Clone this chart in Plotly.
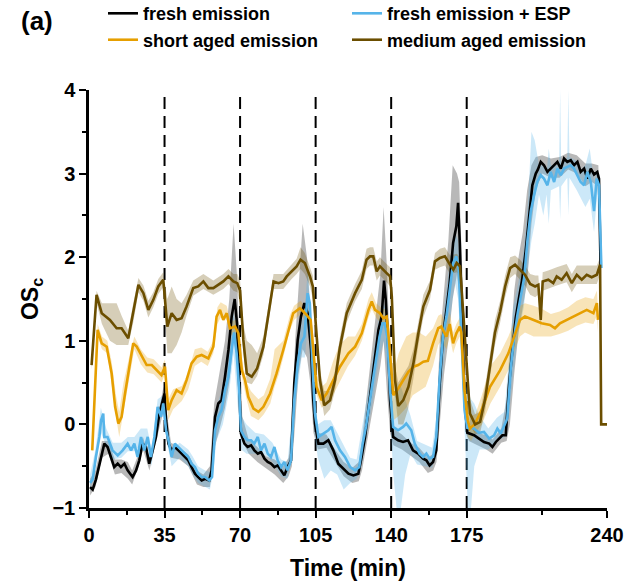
import plotly.graph_objs as go

# ---- data (time in min, OSc) ----
t_fresh = [0.5, 1.7, 3.2, 4.8, 6.3, 7.1, 8.6, 10.2, 11.7, 13.3, 14.8, 16.4, 17.9, 20.2, 21.8, 23.3, 24.8, 26.4, 27.9, 29.5,
           31.0, 32.6, 34.1, 35.0, 35.7, 36.8, 38.3, 39.8, 41.4, 42.9, 44.5, 46.0, 47.5, 49.1, 50.6, 52.2, 53.8, 55.7, 56.8, 58.4,
           59.9, 61.4, 63.0, 64.6, 66.1, 67.5, 68.6, 69.5, 70.4, 72.0, 73.5, 75.1, 76.6, 78.2, 79.7, 81.3, 82.8, 84.3, 85.9, 87.4,
           89.0, 90.5, 92.0, 93.6, 95.1, 96.7, 98.2, 99.8, 101.3, 102.9, 103.9, 104.7, 106.3, 108.6, 110.9, 113.2, 115.5, 117.8, 120.2, 122.5,
           124.8, 126.3, 127.9, 129.4, 131.0, 132.5, 134.1, 135.6, 136.7, 137.5, 138.7, 139.5, 140.9, 143.2, 145.5, 147.8, 150.1, 152.5, 154.8, 156.3,
           157.8, 159.4, 160.9, 162.5, 164.0, 165.6, 167.1, 168.7, 170.2, 171.0, 171.8, 172.8, 174.0, 175.3, 178.4, 180.7, 183.0, 185.4, 186.9, 188.5,
           190.0, 191.5, 193.1, 194.6, 196.1, 197.7, 199.2, 200.8, 202.3, 203.9, 205.4, 207.0, 208.0, 209.3, 210.8, 212.4, 213.9, 215.5, 217.0, 218.6,
           220.1, 221.6, 223.2, 224.7, 226.3, 227.8, 229.4, 230.9, 232.5, 234.0, 235.5, 236.3, 237.0]
y_fresh = [-0.75, -0.78, -0.66, -0.47, -0.31, -0.23, -0.27, -0.39, -0.51, -0.47, -0.51, -0.47, -0.55, -0.63, -0.55, -0.43, -0.23, -0.27, -0.47, -0.31,
           -0.15, 0.13, 0.29, 0.37, 0.05, -0.23, -0.31, -0.27, -0.31, -0.35, -0.39, -0.43, -0.51, -0.59, -0.63, -0.67, -0.65, -0.67, -0.55, 0.09,
           0.25, 0.29, 0.57, 0.89, 1.29, 1.50, 1.20, 0.60, -0.11, -0.23, -0.27, -0.25, -0.31, -0.35, -0.33, -0.41, -0.45, -0.47, -0.51, -0.49,
           -0.55, -0.61, -0.51, -0.43, 0.49, 1.01, 1.29, 1.45, 1.33, 0.89, 0.30, 0.01, -0.23, -0.23, -0.19, -0.31, -0.47, -0.53, -0.59, -0.61,
           -0.59, -0.39, -0.15, 0.17, 0.49, 0.81, 1.13, 1.29, 1.72, 1.49, 0.89, 0.29, -0.15, -0.19, -0.21, -0.19, -0.31, -0.35, -0.41, -0.43,
           -0.49, -0.45, -0.31, 0.49, 1.05, 1.37, 1.69, 2.17, 2.37, 2.65, 2.17, 1.29, 0.29, -0.10, -0.13, -0.17, -0.21, -0.23, -0.27, -0.21,
           -0.17, -0.13, -0.13, 0.47, 0.87, 1.27, 1.51, 1.75, 2.07, 2.47, 2.86, 3.00, 3.05, 3.14, 3.10, 3.02, 3.06, 3.10, 3.14, 3.06,
           3.18, 3.14, 3.16, 3.10, 3.14, 3.02, 3.06, 2.94, 3.06, 2.99, 3.02, 2.94, 1.90]

t_esp = [0.5, 1.7, 3.2, 4.8, 5.6, 6.6, 7.1, 8.6, 10.9, 13.3, 15.6, 17.9, 19.5, 21.0, 22.5, 24.1, 25.6, 27.2, 28.7, 30.3,
         31.8, 33.4, 34.4, 35.7, 36.8, 38.3, 39.8, 41.4, 42.9, 44.5, 46.0, 47.5, 49.1, 50.6, 52.2, 53.8, 55.7, 57.0, 58.4, 59.9,
         61.4, 63.0, 64.6, 66.1, 67.2, 68.4, 69.6, 70.4, 72.0, 73.5, 75.1, 76.6, 78.2, 79.7, 81.3, 82.8, 84.3, 85.9, 87.4, 89.0,
         90.5, 92.0, 93.6, 95.1, 96.7, 98.2, 99.8, 101.3, 102.3, 103.6, 104.7, 106.3, 108.6, 110.9, 112.4, 114.0, 116.3, 118.6, 121.0, 123.3,
         125.2, 126.8, 128.3, 129.9, 131.5, 133.0, 134.6, 136.0, 137.0, 138.2, 139.5, 140.9, 143.2, 145.5, 147.0, 149.3, 150.9, 153.2, 154.8, 156.3,
         157.8, 159.4, 160.9, 162.5, 164.0, 165.6, 167.1, 168.7, 170.2, 171.3, 172.5, 174.0, 175.3, 176.1, 178.4, 180.7, 183.0, 185.4, 187.7, 189.2,
         190.8, 192.3, 193.8, 195.4, 196.9, 198.5, 200.0, 201.6, 203.1, 204.7, 206.2, 207.7, 209.3, 210.8, 212.4, 213.9, 215.5, 217.0, 218.6, 220.1,
         221.6, 223.2, 224.7, 226.3, 227.8, 229.4, 230.9, 232.5, 234.0, 235.2, 236.3, 237.4]
y_esp = [-0.70, -0.66, -0.39, -0.15, 0.05, 0.13, -0.15, -0.15, -0.31, -0.37, -0.31, -0.23, -0.31, -0.23, -0.39, -0.15, -0.31, -0.15, -0.39, -0.15,
         0.21, 0.09, 0.25, -0.07, -0.19, -0.39, -0.23, -0.27, -0.31, -0.35, -0.39, -0.47, -0.51, -0.59, -0.63, -0.63, -0.67, -0.63, -0.07, 0.09,
         0.17, 0.41, 0.57, 0.89, 1.10, 0.85, 0.41, -0.07, -0.15, -0.19, -0.19, -0.23, -0.15, -0.31, -0.23, -0.35, -0.39, -0.27, -0.43, -0.51,
         -0.45, -0.55, -0.43, 0.29, 0.73, 0.97, 1.05, 1.57, 1.45, 0.69, 0.13, -0.15, -0.11, -0.07, -0.03, -0.19, -0.31, -0.39, -0.51, -0.55,
         -0.51, -0.23, -0.03, 0.25, 0.49, 0.81, 1.05, 1.21, 1.21, 1.05, 0.41, -0.03, -0.07, -0.03, 0.01, -0.07, -0.23, -0.35, -0.39, -0.35,
         -0.41, -0.39, -0.15, 0.57, 1.05, 1.29, 1.61, 1.93, 2.01, 1.85, 1.09, 0.17, -0.05, -0.03, -0.05, -0.10, -0.09, -0.17, -0.13, -0.05,
         -0.11, -0.01, 0.07, 0.67, 1.03, 1.31, 1.51, 1.75, 2.19, 2.55, 2.74, 2.90, 2.98, 2.94, 2.86, 3.02, 2.90, 3.06, 2.98, 3.06,
         3.08, 3.10, 3.06, 2.98, 2.90, 2.86, 3.02, 2.90, 2.55, 2.94, 2.86, 1.87]

t_short = [1.5, 4.0, 5.9, 8.2, 10.5, 12.1, 13.6, 15.1, 16.7, 19.0, 20.5, 22.1, 24.4, 26.7, 29.1, 31.4, 33.6, 35.2, 36.7, 38.3,
           40.6, 42.9, 45.2, 47.5, 49.9, 52.2, 55.3, 57.6, 59.1, 60.7, 62.2, 63.8, 65.3, 67.7, 69.2, 70.8, 72.3, 73.8, 76.2, 78.5,
           80.8, 83.9, 86.9, 90.0, 93.1, 94.6, 97.7, 100.1, 102.7, 103.8, 105.4, 107.8, 110.1, 113.2, 116.3, 120.2, 123.3, 126.4, 129.5, 131.0,
           132.5, 134.8, 136.4, 137.9, 139.0, 141.0, 143.3, 145.6, 148.0, 150.3, 152.5, 154.9, 157.0, 159.4, 161.8, 163.2, 165.6, 167.1, 168.7, 170.2,
           171.8, 172.5, 174.0, 175.5, 176.5, 178.9, 181.9, 185.8, 190.5, 194.3, 197.4, 199.7, 202.0, 205.9, 209.7, 213.6, 215.9, 218.2, 221.3, 224.4,
           227.5, 230.6, 233.7, 235.3, 235.8]
y_short = [-0.31, 1.13, 0.97, 0.93, 0.61, 0.21, 0.01, 0.09, 0.37, 0.73, 0.97, 0.93, 0.81, 0.71, 0.71, 0.65, 0.59, 0.69, 0.17, 0.29,
           0.41, 0.37, 0.53, 0.73, 0.81, 0.83, 0.79, 0.93, 1.29, 1.37, 1.25, 1.33, 1.15, 1.17, 1.09, 0.65, 0.53, 0.33, 0.19, 0.15,
           0.21, 0.37, 0.61, 0.89, 1.21, 1.33, 1.39, 1.33, 1.25, 0.93, 0.45, 0.29, 0.37, 0.53, 0.69, 0.85, 0.93, 1.09, 1.37, 1.47,
           1.37, 1.33, 1.27, 1.29, 1.00, 0.35, 0.43, 0.53, 0.63, 0.69, 0.71, 0.75, 0.76, 0.97, 1.15, 1.17, 1.05, 1.20, 0.97, 1.09,
           1.17, 1.10, 0.40, 0.05, -0.05, 0.01, 0.17, 0.45, 0.65, 0.85, 1.09, 1.25, 1.29, 1.25, 1.21, 1.19, 1.15, 1.21, 1.25, 1.29,
           1.33, 1.37, 1.33, 1.45, 1.25]

t_medium = [1.2, 3.5, 5.9, 9.7, 12.8, 15.1, 18.2, 20.5, 22.9, 25.2, 27.5, 29.8, 32.1, 34.4, 36.3, 38.3, 40.6, 42.9, 45.2, 48.3,
            50.6, 53.0, 55.3, 57.6, 59.9, 62.2, 64.6, 66.9, 68.7, 70.0, 71.5, 73.1, 75.4, 77.9, 80.8, 83.1, 85.5, 87.8, 90.0, 91.6,
            93.9, 96.2, 98.0, 100.0, 102.4, 103.7, 104.7, 105.8, 107.0, 109.0, 111.7, 114.0, 116.3, 119.4, 123.3, 126.4, 128.6, 130.2, 131.7, 133.3,
            134.8, 137.9, 139.5, 140.3, 141.8, 143.3, 145.6, 148.0, 150.3, 152.6, 154.9, 158.0, 160.3, 162.6, 164.9, 167.3, 168.8, 170.4, 171.9, 173.4,
            175.0, 176.5, 178.9, 181.2, 183.5, 186.0, 188.1, 190.5, 192.8, 195.1, 197.4, 199.7, 202.0, 204.4, 206.7, 208.2, 209.3, 210.2, 212.8, 215.1,
            216.7, 219.0, 221.3, 223.7, 226.0, 228.3, 230.6, 232.9, 235.3, 236.8, 237.3, 240.0]
y_medium = [0.71, 1.55, 1.33, 1.25, 1.15, 1.15, 1.03, 1.33, 1.67, 1.57, 1.37, 1.49, 1.65, 1.73, 1.17, 1.33, 1.25, 1.27, 1.41, 1.63,
            1.65, 1.71, 1.63, 1.63, 1.67, 1.71, 1.77, 1.71, 1.69, 1.60, 1.01, 0.61, 0.57, 0.67, 0.93, 1.33, 1.71, 1.69, 1.71, 1.77,
            1.83, 1.89, 1.97, 1.93, 1.77, 1.65, 1.33, 0.93, 0.53, 0.23, 0.29, 0.53, 0.93, 1.33, 1.57, 1.73, 1.97, 2.01, 2.01, 1.83,
            1.89, 1.81, 1.77, 1.53, 0.53, 0.22, 0.29, 0.45, 0.73, 1.09, 1.41, 1.61, 1.95, 1.99, 2.01, 1.91, 1.85, 1.93, 1.89, 1.33,
            0.65, 0.13, 0.00, 0.03, 0.30, 0.75, 1.10, 1.35, 1.65, 1.87, 1.91, 1.85, 1.79, 1.68, 1.65, 1.67, 1.25, 1.71, 1.73, 1.69,
            1.77, 1.73, 1.81, 1.69, 1.79, 1.73, 1.79, 1.76, 1.79, 1.91, 0.00, 0.00]

# ---- uncertainty bands (lower / upper edges) ----
bt_fresh = [0.5, 3, 6, 9, 12, 15, 18, 20, 23, 25, 28, 31, 33, 34.5, 36, 38, 42, 46, 50, 53,
            56, 58, 60, 63, 65, 67, 68.5, 70, 71, 74, 78, 82, 86, 90, 92.5, 94, 95.5, 97, 99, 101,
            102.5, 104, 106, 110, 114, 118, 122, 125, 126.5, 128.5, 131, 133, 135, 136.5, 138, 139.5, 141, 145, 149, 153,
            157, 159.5, 161, 162.5, 164.5, 166.5, 168.5, 170.5, 171.5, 173, 174.5, 176, 180, 184, 187, 191, 193.5, 195, 197, 199,
            201, 203, 205, 207, 210, 214, 218, 222, 226, 230, 233, 236, 237]
lo_fresh = [-0.85, -0.75, -0.40, -0.35, -0.60, -0.58, -0.65, -0.72, -0.50, -0.30, -0.55, -0.22, 0.00, 0.15, -0.10, -0.40, -0.42, -0.50, -0.72, -0.75,
            -0.75, -0.30, -0.10, 0.20, 0.50, 1.00, 0.80, 0.00, -0.20, -0.35, -0.45, -0.52, -0.60, -0.70, -0.62, -0.50, 0.00, 0.60, 0.90, 0.80,
            0.50, -0.10, -0.30, -0.28, -0.45, -0.62, -0.70, -0.68, -0.55, -0.30, 0.10, 0.40, 0.70, 1.00, 0.40, -0.10, -0.25, -0.30, -0.38, -0.45,
            -0.58, -0.55, -0.45, 0.00, 0.60, 1.00, 1.50, 1.80, 1.60, 0.60, -0.10, -0.20, -0.25, -0.30, -0.35, -0.22, -0.20, 0.00, 0.60, 1.10,
            1.40, 1.70, 2.40, 2.80, 3.00, 2.95, 2.95, 3.05, 3.00, 2.85, 2.90, 2.85, 1.80]
hi_fresh = [-0.65, -0.55, -0.20, -0.20, -0.42, -0.42, -0.45, -0.55, -0.35, -0.15, -0.40, -0.08, 0.25, 0.45, 0.15, -0.22, -0.28, -0.36, -0.55, -0.60,
            -0.50, 0.25, 0.55, 1.00, 1.50, 2.40, 1.80, 0.90, 0.10, -0.18, -0.27, -0.38, -0.42, -0.50, -0.40, 0.00, 1.00, 1.60, 2.40, 2.00,
            1.40, 0.70, -0.10, -0.12, -0.30, -0.45, -0.52, -0.45, -0.20, 0.30, 0.90, 1.30, 1.80, 2.60, 1.90, 0.80, -0.05, -0.12, -0.22, -0.28,
            -0.40, -0.35, 0.00, 1.00, 1.60, 2.20, 3.10, 3.00, 2.90, 1.80, 0.40, 0.00, -0.10, -0.13, -0.18, -0.05, 0.30, 0.90, 1.60, 2.00,
            2.30, 2.80, 3.10, 3.20, 3.22, 3.18, 3.20, 3.25, 3.22, 3.12, 3.12, 3.10, 2.00]

bt_esp = [0.5, 3, 5.5, 8, 11, 15, 18, 21, 24, 27, 29, 31.8, 34.4, 36, 38.3, 42, 46, 48, 50.5, 53.8,
          56, 57.5, 59, 62, 65, 67, 69, 70.5, 73, 77, 81, 85, 89, 92, 94, 96, 98.5, 100, 101.5, 103,
          104.5, 106, 109, 112, 115, 118, 121, 124, 126.5, 129, 132, 134.5, 136.5, 138.5, 139.8, 141, 142.5, 144.5, 146.5, 149,
          152, 156, 159, 161, 162.8, 165, 167.5, 169.5, 171, 172.8, 174.3, 175.5, 177, 178.5, 181, 185, 189, 192.5, 194.5, 196.5,
          199, 201.5, 203.5, 205, 206.5, 208.5, 210.5, 212, 213, 214, 217.8, 218.3, 218.8, 221.6, 222.1, 222.6, 226, 228, 230, 232,
          234, 235.5, 237]
lo_esp = [-0.80, -0.50, -0.10, -0.25, -0.42, -0.40, -0.32, -0.32, -0.25, -0.25, -0.50, 0.10, 0.15, -0.20, -0.50, -0.40, -0.50, -0.60, -0.70, -0.75,
          -0.78, -0.60, -0.20, 0.00, 0.40, 0.85, 0.20, -0.30, -0.35, -0.35, -0.35, -0.45, -0.62, -0.65, -0.30, 0.30, 0.80, 0.80, 1.20, 0.50,
          -0.10, -0.40, -0.65, -0.55, -0.60, -0.78, -0.70, -0.65, -0.45, -0.10, 0.35, 0.80, 1.00, 0.60, 0.00, -0.60, -1.00, -1.00, -0.60, -0.35,
          -0.48, -0.50, -0.52, -0.30, 0.30, 0.90, 1.30, 1.70, 1.50, 0.70, -0.30, -1.00, -1.00, -0.50, -0.30, -0.30, -0.20, -0.15, 0.10, 0.60,
          1.10, 1.40, 1.90, 2.20, 2.40, 2.75, 2.50, 2.75, 2.40, 2.80, 2.85, 2.45, 2.85, 2.95, 2.50, 2.95, 2.80, 2.70, 2.60, 2.70,
          2.30, 2.75, 1.80]
hi_esp = [-0.60, -0.30, 0.20, -0.05, -0.22, -0.22, -0.15, -0.15, -0.05, -0.05, -0.30, 0.30, 0.35, 0.05, -0.30, -0.22, -0.30, -0.38, -0.50, -0.55,
          -0.57, -0.30, 0.20, 0.45, 0.90, 1.35, 0.90, 0.10, 0.00, -0.10, -0.12, -0.22, -0.42, -0.45, 0.10, 0.90, 1.20, 1.40, 1.90, 1.20,
          0.40, 0.00, 0.05, 0.05, -0.10, -0.25, -0.40, -0.42, -0.05, 0.35, 0.90, 1.30, 1.45, 1.30, 0.80, 0.30, 0.50, 0.45, 0.30, 0.10,
          -0.20, -0.25, -0.28, 0.10, 0.90, 1.50, 2.00, 2.30, 2.20, 1.40, 0.50, 0.40, 0.30, 0.25, 0.10, -0.05, 0.08, 0.15, 0.80, 1.40,
          1.70, 2.10, 2.70, 3.50, 3.40, 3.10, 3.10, 3.00, 3.30, 3.10, 3.10, 4.00, 3.10, 3.20, 4.00, 3.20, 3.15, 3.05, 3.10, 3.30,
          2.90, 3.05, 2.00]

bt_short = [1.5, 4, 6, 8.5, 10.5, 12.5, 14, 16, 19, 21, 24, 27, 30, 33.6, 35.2, 36.7, 39, 43, 46, 49,
            52, 55, 57.6, 59.5, 61, 63.8, 65.5, 68, 69.5, 71, 73, 75, 78.5, 81, 84, 86, 88, 90, 93, 95,
            98, 100, 102.7, 104, 105.5, 107.8, 110, 113, 116, 120, 123.3, 126.4, 129.5, 131, 133, 136, 138, 139.3, 141, 143.5,
            147, 150, 153, 156, 159.4, 161.8, 163.2, 165.6, 167.1, 168.7, 170.2, 171.8, 172.5, 174, 175.5, 177, 179, 182, 186, 190.5,
            194.3, 197.4, 199.7, 202, 206, 210, 214, 218, 222, 226, 230, 233.7, 235.3, 235.8]
lo_short = [-0.35, 1.05, 0.90, 0.85, 0.50, 0.10, -0.15, 0.10, 0.60, 0.90, 0.72, 0.62, 0.60, 0.50, 0.60, 0.05, 0.18, 0.28, 0.42, 0.70,
            0.75, 0.70, 0.85, 1.20, 1.28, 1.25, 1.07, 1.08, 0.90, 0.55, 0.30, 0.10, 0.05, 0.12, 0.25, 0.45, 0.60, 0.80, 1.12, 1.25,
            1.32, 1.25, 1.17, 0.80, 0.35, 0.20, 0.25, 0.35, 0.50, 0.70, 0.82, 1.00, 1.28, 1.38, 1.28, 1.18, 1.20, 0.70, 0.05, 0.10,
            0.20, 0.35, 0.40, 0.45, 0.70, 0.95, 1.00, 0.90, 1.05, 0.85, 0.97, 1.05, 0.95, 0.20, -0.15, -0.20, -0.10, 0.00, 0.25, 0.45,
            0.65, 0.90, 1.05, 1.10, 1.05, 1.05, 1.05, 1.08, 1.12, 1.18, 1.22, 1.20, 1.30, 1.10]
hi_short = [-0.25, 1.20, 1.05, 1.00, 0.75, 0.35, 0.15, 0.50, 0.85, 1.05, 0.90, 0.80, 0.78, 0.68, 0.78, 0.30, 0.42, 0.46, 0.62, 0.90,
            0.92, 0.87, 1.00, 1.40, 1.46, 1.42, 1.23, 1.25, 1.15, 0.75, 0.50, 0.40, 0.30, 0.35, 0.55, 0.90, 0.95, 1.00, 1.30, 1.42,
            1.48, 1.42, 1.33, 1.05, 0.60, 0.45, 0.50, 0.75, 0.95, 1.05, 1.05, 1.20, 1.50, 1.58, 1.45, 1.38, 1.38, 1.15, 0.60, 0.85,
            1.05, 1.10, 1.10, 1.05, 1.15, 1.30, 1.32, 1.20, 1.35, 1.10, 1.20, 1.28, 1.25, 0.60, 0.25, 0.10, 0.12, 0.35, 0.70, 0.85,
            1.05, 1.25, 1.42, 1.45, 1.42, 1.38, 1.32, 1.35, 1.40, 1.48, 1.52, 1.50, 1.60, 1.40]

bt_medium = [1.2, 3.5, 6, 9.7, 12.8, 15.1, 18.2, 20.5, 22.9, 25.2, 27.5, 29.8, 32.1, 34.4, 36.3, 38.3, 40.6, 42.9, 45.2, 48.3,
             53, 57.6, 62.2, 64.6, 66.9, 68.7, 70, 71.5, 73.1, 75.4, 77.9, 80.8, 83.1, 85.5, 90, 93.9, 96.2, 98, 100, 102.4,
             103.7, 104.7, 105.8, 107, 109, 111.7, 114, 116.3, 119.4, 123.3, 126.4, 128.6, 130.2, 131.7, 133.3, 134.8, 137.9, 139.5, 140.3, 141.8,
             143.3, 145.6, 148, 150.3, 152.6, 154.9, 158, 160.3, 162.6, 164.9, 167.3, 170.4, 171.9, 173.4, 175, 176.5, 178.9, 181.2, 183.5, 186,
             188.1, 190.5, 192.8, 195.1, 197.4, 199.7, 202, 204.4, 206.7, 208.2, 209.3, 210.2, 212.8, 216.7, 221.3, 223.7, 226, 230.6, 235.3, 236.8]
lo_medium = [0.65, 1.45, 1.20, 1.00, 0.95, 0.95, 0.95, 1.22, 1.58, 1.48, 1.28, 1.40, 1.56, 1.64, 0.85, 0.85, 0.95, 1.10, 1.30, 1.54,
             1.62, 1.55, 1.62, 1.68, 1.60, 1.58, 1.45, 0.85, 0.50, 0.48, 0.58, 0.83, 1.23, 1.62, 1.62, 1.74, 1.80, 1.86, 1.80, 1.65,
             1.50, 1.20, 0.80, 0.40, 0.10, 0.18, 0.40, 0.82, 1.22, 1.47, 1.62, 1.86, 1.90, 1.90, 1.72, 1.78, 1.70, 1.65, 1.40, 0.35,
             0.00, 0.00, 0.20, 0.55, 0.95, 1.28, 1.50, 1.85, 1.88, 1.90, 1.80, 1.82, 1.78, 1.20, 0.50, 0.00, -0.12, -0.10, 0.15, 0.60,
             0.95, 1.22, 1.52, 1.75, 1.80, 1.73, 1.66, 1.55, 1.52, 1.55, 1.15, 1.60, 1.62, 1.66, 1.70, 1.58, 1.68, 1.68, 1.68, 1.80]
hi_medium = [0.78, 1.60, 1.45, 1.45, 1.45, 1.30, 1.12, 1.45, 1.75, 1.66, 1.48, 1.58, 1.74, 1.82, 1.50, 1.65, 1.50, 1.45, 1.55, 1.72,
             1.80, 1.72, 1.80, 1.86, 1.80, 1.80, 1.72, 1.20, 1.00, 0.95, 0.85, 1.05, 1.43, 1.80, 1.80, 1.92, 1.98, 2.12, 2.05, 1.88,
             1.78, 1.45, 1.05, 0.65, 0.40, 0.40, 0.65, 1.05, 1.45, 1.68, 1.84, 2.10, 2.12, 2.12, 1.95, 2.00, 1.92, 1.88, 1.65, 0.70,
             0.50, 0.60, 0.70, 0.90, 1.25, 1.55, 1.72, 2.05, 2.10, 2.12, 2.02, 2.04, 2.00, 1.45, 0.80, 0.30, 0.12, 0.15, 0.45, 0.90,
             1.25, 1.48, 1.78, 2.00, 2.02, 1.97, 1.90, 1.80, 1.78, 1.78, 1.35, 1.82, 1.84, 1.88, 1.92, 1.80, 1.90, 1.90, 1.90, 2.00]

x_ticks = [0, 35, 70, 105, 140, 175, 240]
x_minor = [17.5, 52.5, 87.5, 122.5, 157.5, 210]
y_ticks = [-1, 0, 1, 2, 3, 4]
event_times = [35, 70, 105, 140, 175]

names = ['fresh emission', 'fresh emission + ESP', 'short aged emission', 'medium aged emission']
line_colors = ['#000000', '#56B4E9', '#E69F00', '#6B4E00']
band_colors = ['rgba(0,0,0,0.28)', 'rgba(86,180,233,0.3)', 'rgba(230,159,0,0.28)', 'rgba(107,78,0,0.28)']

series = [(t_fresh, y_fresh), (t_esp, y_esp), (t_short, y_short), (t_medium, y_medium)]
bands = [(bt_fresh, lo_fresh, hi_fresh), (bt_esp, lo_esp, hi_esp),
         (bt_short, lo_short, hi_short), (bt_medium, lo_medium, hi_medium)]

FONT = 'Arial, Liberation Sans, sans-serif'

traces = []
for (bt, lo, hi), col in zip(bands, band_colors):
    traces.append(go.Scatter(x=bt + bt[::-1], y=hi + lo[::-1], fill='toself', fillcolor=col,
                             line=dict(width=0), mode='lines', showlegend=False, hoverinfo='skip'))
for (t, y), name, col in zip(series, names, line_colors):
    traces.append(go.Scatter(x=t, y=y, name=name, mode='lines', line=dict(color=col, width=2.6)))

layout = go.Layout(
    width=631, height=586,
    margin=dict(l=89, r=24, t=90, b=78, autoexpand=False),
    plot_bgcolor='white', paper_bgcolor='white',
    font=dict(family=FONT, color='black'),
    xaxis=dict(range=[0, 240], tickvals=x_ticks, ticks='outside', ticklen=7, tickwidth=2, tickcolor='black',
               showline=True, linewidth=2.5, linecolor='black', showgrid=False, zeroline=False, automargin=False,
               tickfont=dict(size=20, weight='bold'),
               minor=dict(tickvals=x_minor, ticks='outside', ticklen=4, tickwidth=2, tickcolor='black'),
               title=dict(text='Time (min)', font=dict(size=23, weight='bold'), standoff=16)),
    yaxis=dict(range=[-1, 4], tickvals=y_ticks, ticks='outside', ticklen=7, tickwidth=2, tickcolor='black',
               showline=True, linewidth=2.5, linecolor='black', showgrid=False, zeroline=False, automargin=False,
               tickfont=dict(size=20, weight='bold'),
               minor=dict(dtick=0.5, ticks='outside', ticklen=4, tickwidth=2, tickcolor='black'),
               title=dict(text='OS<sub>c</sub>', font=dict(size=23, weight='bold'), standoff=8)),
    legend=dict(orientation='h', x=0.027, xanchor='left', y=1.227, yanchor='top',
                font=dict(size=18, weight='bold'), entrywidth=199, entrywidthmode='pixels',
                bgcolor='rgba(0,0,0,0)', tracegroupgap=0),
    shapes=[dict(type='line', xref='x', yref='y', x0=t, x1=t, y0=-1, y1=3.95, layer='below',
                 line=dict(color='black', width=2, dash='12px,7px')) for t in event_times],
    annotations=[dict(text='(a)', xref='paper', yref='paper', x=-0.135, y=1.206, xanchor='left', yanchor='top',
                      showarrow=False, font=dict(size=26, weight='bold'))],
)

fig = go.Figure(traces, layout=layout)
# the page's default 8px body margin would shift the whole chart
fig.write_html("out.html", config={'displayModeBar': False},
               post_script="document.body.style.margin='0px';")
